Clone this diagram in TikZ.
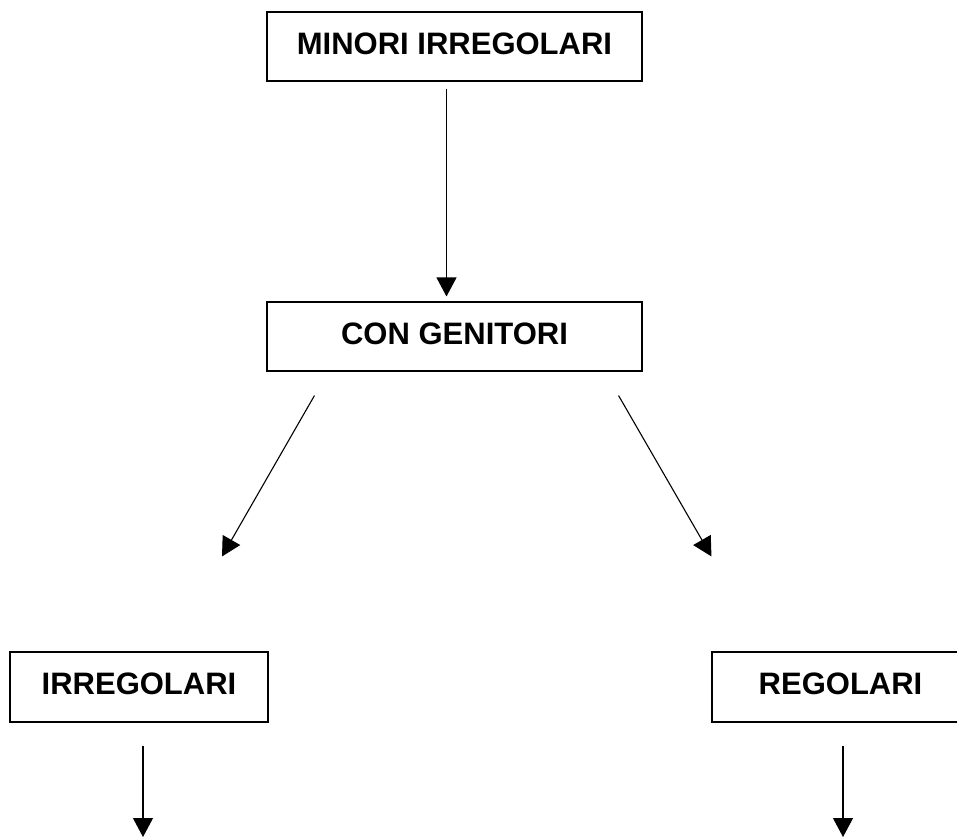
\documentclass[tikz,border=0pt]{standalone}
\usepackage{fontspec}
\setmainfont{Liberation Sans}
\usetikzlibrary{arrows.meta}
\begin{document}
\begin{tikzpicture}[x=1pt,y=-1pt,
  box/.style={draw=black,line width=1.1pt,rectangle,inner sep=0pt,
    text height=23pt,text depth=8pt,
    font=\fontsize{31}{34}\selectfont\bfseries},
  arr/.style={draw=black,line width=1.1pt,-{Triangle[width=20pt,length=19pt]}}]
\useasboundingbox (0,0) rectangle (957,838);
\clip (0,0) rectangle (957,838);
\fill[white] (0,0) rectangle (957,838);
\node[box,minimum width=375pt,minimum height=69pt] (b1) at (454.5,46.5) {MINORI IRREGOLARI};
\node[box,minimum width=375pt,minimum height=69pt] (b2) at (454.5,336.5) {CON GENITORI};
\node[box,minimum width=258pt,minimum height=70pt] (b3) at (139,687) {IRREGOLARI};
\node[box,minimum width=257pt,minimum height=70pt] (b4) at (840.5,687) {REGOLARI};
\coordinate (e3) at (143,837);
\coordinate (e4) at (843,837);
\draw[arr] ([xshift=-8pt,yshift=-7pt]b1.south) -- ([xshift=-8pt,yshift=5pt]b2.north);
\draw[arr] ([xshift=48pt,yshift=-24pt]b2.south west) -- ([xshift=83pt,yshift=95pt]b3.north);
\draw[arr] ([xshift=-24pt,yshift=-24pt]b2.south east) -- ([yshift=95pt]b4.north west);
\draw[arr] ([xshift=4pt,yshift=-23pt]b3.south) -- (e3);
\draw[arr] ([xshift=2.5pt,yshift=-23pt]b4.south) -- (e4);
\end{tikzpicture}
\end{document}
